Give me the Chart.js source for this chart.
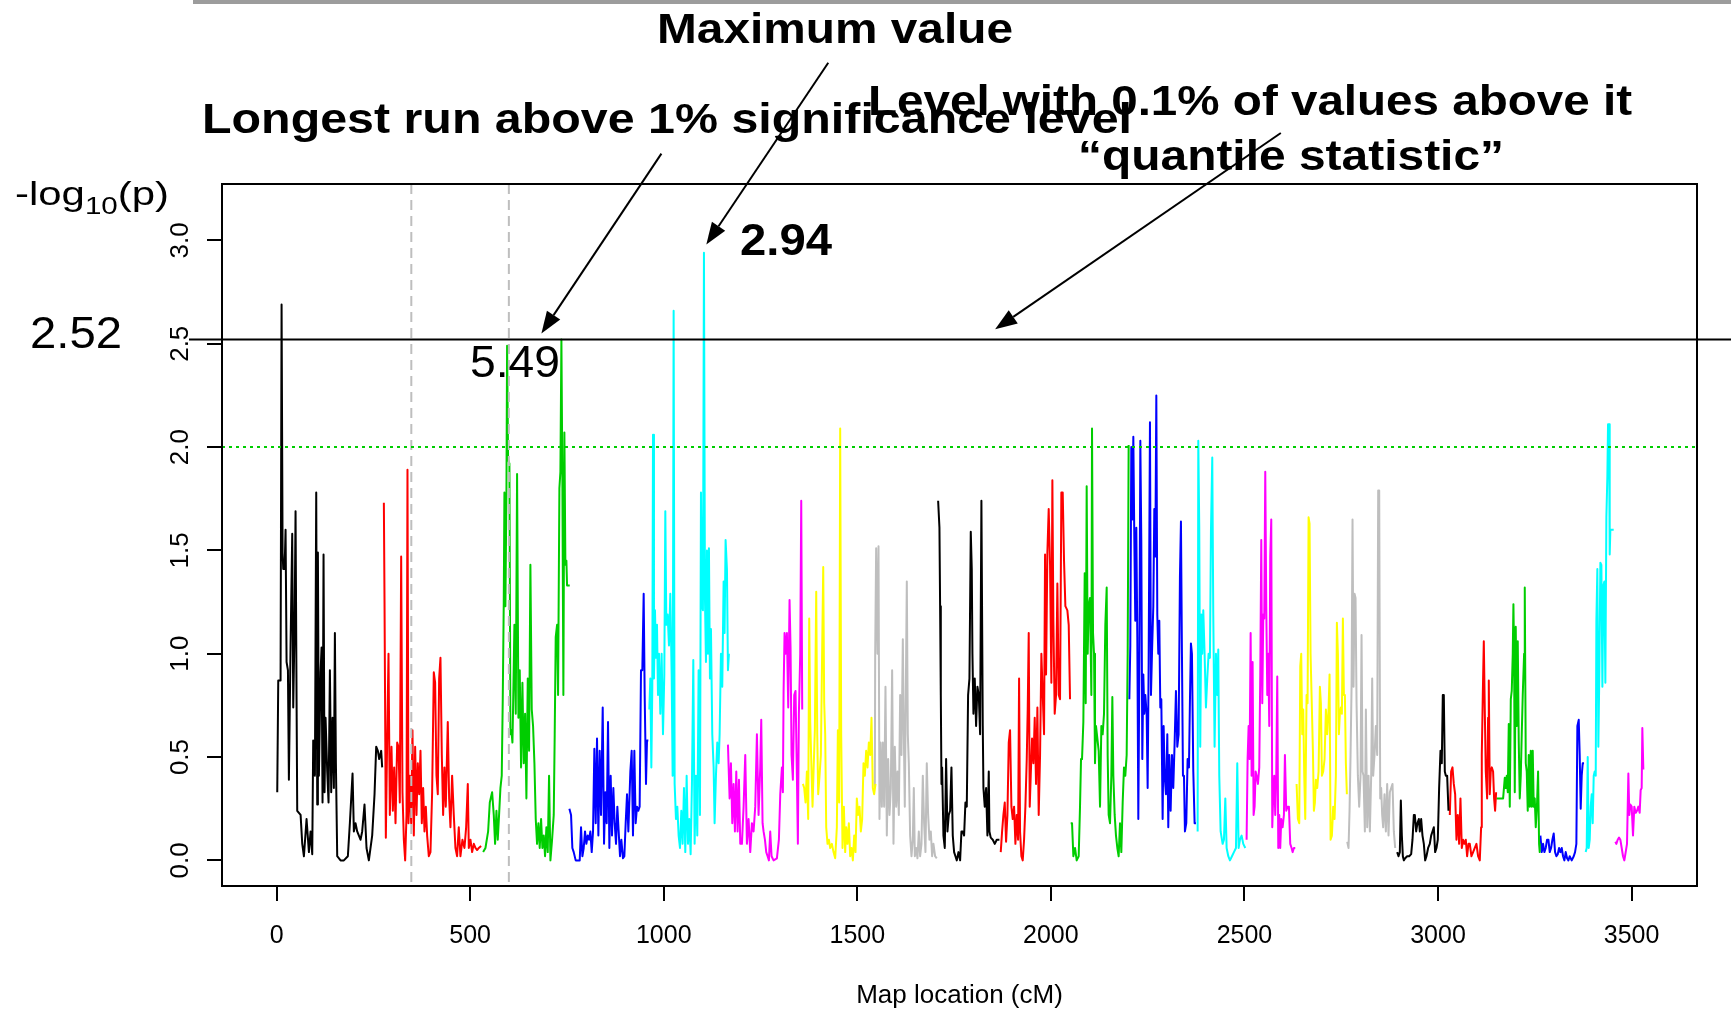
<!DOCTYPE html>
<html>
<head>
<title>Genome scan -log10(p)</title>
<script src="https://cdn.jsdelivr.net/npm/chart.js"></script>
<style>
  html, body { margin: 0; padding: 0; background: #fff; overflow: hidden; }
  canvas { display: block; }
</style>
</head>
<body>
<canvas id="scanChart" width="1731" height="1013"></canvas>
<script>
// [map location (cM), -log10(p)], one list per chromosome
var chr1 = [[1.7,0.33],[4.3,0.87],[10.3,0.87],[12.9,2.69],[15.5,1.49],[17.2,1.41],[20.7,1.41],[23.2,1.60],[25.8,0.96],[29.3,0.92],[31.8,0.39],[36.1,1.04],[40.4,1.58],[43.0,0.74],[46.5,1.14],[49.0,1.69],[51.6,0.78],[53.3,0.24],[62.0,0.22],[66.3,0.08],[70.6,0.02],[77.4,0.20],[83.5,0.04],[87.8,0.14],[92.1,0.03],[94.6,0.58],[99.0,0.41],[102.4,1.78],[105.0,0.27],[106.7,1.49],[109.3,0.41],[113.6,0.91],[116.2,1.03],[118.7,0.28],[121.3,1.48],[123.9,0.33],[126.5,0.69],[130.8,0.43],[134.2,0.28],[137.7,0.92],[141.1,0.33],[144.5,0.69],[148.0,0.35],[150.6,1.10],[153.2,0.47],[156.6,0.02],[165.2,0.00],[173.8,0.00],[184.1,0.02],[189.3,0.18],[196.2,0.42],[199.6,0.14],[203.9,0.18],[208.2,0.14],[216.8,0.10],[221.1,0.14],[227.1,0.27],[232.3,0.06],[238.3,0.00],[246.9,0.12],[253.0,0.32],[257.3,0.55],[261.6,0.53],[265.0,0.49],[270.2,0.53],[272.7,0.45]];
var chr2 = [[277.1,1.73],[278.8,1.25],[282.2,0.11],[285.7,0.59],[289.1,1.00],[292.5,0.22],[296.8,0.55],[300.3,0.24],[303.7,0.45],[307.2,0.18],[311.5,0.57],[314.9,0.55],[318.3,0.28],[321.8,1.47],[325.2,0.33],[328.7,0.10],[332.1,0.00],[335.6,0.22],[338.1,1.89],[340.7,0.18],[344.2,0.41],[347.6,0.18],[351.0,0.63],[354.5,0.12],[357.9,0.55],[361.4,0.22],[364.8,0.47],[368.3,0.32],[371.7,0.53],[375.1,0.18],[378.6,0.35],[382.0,0.14],[385.5,0.26],[388.9,0.12],[393.2,0.02],[397.5,0.04],[401.8,0.33],[406.1,0.91],[409.5,0.86],[413.0,0.41],[416.4,0.32],[419.9,0.88],[423.3,0.98],[426.8,0.51],[430.2,0.22],[433.6,0.45],[437.1,0.26],[442.2,0.67],[445.7,0.30],[449.1,0.16],[453.4,0.41],[457.7,0.22],[462.0,0.06],[466.3,0.02],[470.6,0.16],[474.9,0.02],[480.1,0.10],[485.3,0.06],[489.6,0.16],[493.9,0.37],[496.5,0.06],[500.8,0.10],[505.1,0.04],[509.4,0.08],[513.7,0.06],[518.0,0.05],[522.3,0.06],[528.3,0.07]];
var chr3 = [[533.5,0.04],[539.5,0.06],[546.4,0.14],[550.7,0.28],[556.7,0.33],[561.0,0.22],[564.4,0.08],[567.9,0.24],[571.3,0.10],[574.7,0.22],[578.2,0.35],[581.6,0.41],[584.2,0.78],[586.8,1.25],[588.5,1.78],[591.0,1.23],[593.7,1.78],[595.4,2.49],[598.0,1.94],[601.4,1.92],[604.0,0.61],[606.6,0.63],[609.2,0.57],[610.9,0.74],[614.3,1.14],[617.8,0.71],[621.2,1.87],[624.7,0.69],[628.1,0.92],[631.5,0.45],[635.0,0.86],[638.4,0.47],[641.9,0.71],[645.3,0.30],[648.8,0.88],[652.2,0.53],[655.6,1.43],[659.1,0.73],[662.5,0.65],[666.0,0.47],[669.4,0.20],[672.8,0.08],[676.3,0.18],[679.7,0.06],[683.2,0.20],[686.6,0.06],[690.1,0.12],[693.5,0.02],[696.9,0.16],[700.4,0.04],[703.8,0.41],[707.3,0.00],[711.6,0.10],[715.9,0.22],[718.4,0.61],[721.0,1.08],[724.5,1.14],[727.1,0.80],[730.5,1.80],[733.1,1.88],[735.7,2.52],[738.2,1.84],[740.8,0.80],[743.4,2.07],[746.0,1.43],[748.6,1.45],[750.3,1.33],[757.2,1.33]];
var chr4 = [[756.3,0.25],[760.6,0.22],[764.0,0.06],[767.5,0.04],[772.6,0.00],[777.8,0.00],[783.0,0.00],[786.4,0.16],[789.9,0.02],[793.3,0.06],[796.7,0.14],[800.2,0.08],[803.6,0.12],[807.1,0.10],[810.5,0.14],[814.0,0.04],[817.4,0.14],[820.8,0.54],[824.3,0.18],[827.7,0.59],[831.2,0.12],[834.6,0.53],[838.0,0.22],[842.4,0.74],[845.8,0.08],[849.2,0.33],[852.7,0.18],[856.1,0.67],[859.6,0.06],[863.0,0.41],[866.4,0.12],[869.9,0.35],[873.3,0.18],[876.8,0.08],[880.2,0.26],[883.6,0.14],[887.1,0.02],[890.5,0.10],[894.8,0.01],[898.3,0.02],[901.7,0.18],[905.2,0.32],[908.6,0.14],[913.8,0.43],[917.2,0.53],[920.6,0.12],[924.1,0.53],[927.5,0.18],[931.0,0.26],[934.4,0.24],[937.8,0.26],[941.3,0.92],[944.7,0.92],[948.2,1.29],[950.8,0.80],[954.2,0.37],[956.8,0.58],[960.2,0.58]];
var chr5 = [[962.8,0.73],[965.4,0.88],[968.0,0.45],[970.5,0.84],[972.3,2.06],[974.8,0.88],[977.4,1.21],[980.0,0.98],[982.6,1.14],[985.2,0.80],[987.8,1.00],[991.2,0.71],[994.6,1.00],[998.1,0.61],[1001.5,0.90],[1004.1,1.69],[1006.7,1.14],[1010.1,1.19],[1013.6,1.04],[1017.0,1.29],[1020.5,0.90],[1023.0,0.41],[1025.6,2.66],[1028.2,0.37],[1031.6,0.20],[1035.1,0.26],[1038.5,0.12],[1042.0,0.06],[1045.4,0.24],[1048.8,0.08],[1052.3,0.35],[1055.7,0.04],[1059.2,0.41],[1062.6,0.08],[1066.0,0.20],[1069.5,0.03],[1072.9,0.37],[1076.4,0.97],[1079.8,0.08],[1083.3,0.41],[1086.7,0.12],[1090.1,0.92],[1093.6,0.22],[1096.2,1.78],[1098.7,1.23],[1101.3,1.21],[1103.9,2.94],[1106.5,1.27],[1109.1,0.96],[1111.6,1.50],[1114.2,1.00],[1116.8,1.51],[1119.4,0.88],[1122.0,1.12],[1125.4,0.61],[1128.9,0.45],[1131.4,0.18],[1134.9,0.41],[1138.3,0.57],[1141.8,0.47],[1144.4,0.61],[1147.8,1.00],[1151.2,0.84],[1154.7,1.35],[1157.2,1.10],[1159.8,1.55],[1163.3,1.41],[1165.9,0.92],[1168.4,1.00]];
var chr6 = [[1165.9,0.56],[1170.2,0.30],[1173.6,0.47],[1177.1,0.18],[1180.5,0.37],[1183.9,0.14],[1187.4,0.43],[1190.8,0.14],[1194.3,0.39],[1197.7,0.08],[1202.0,0.08],[1206.3,0.26],[1210.6,0.51],[1214.9,0.08],[1219.2,0.20],[1223.5,0.04],[1227.8,0.18],[1232.1,0.14],[1236.4,0.26],[1240.7,0.61],[1245.0,0.22],[1249.3,0.45],[1251.9,0.68],[1255.3,0.18],[1257.9,0.14],[1261.4,0.10],[1264.8,0.04],[1268.3,0.02],[1271.7,0.00],[1275.1,0.14],[1278.6,0.02],[1283.7,0.00],[1292.3,0.01],[1297.5,0.10],[1301.0,0.32],[1305.3,0.45],[1307.8,0.33],[1309.6,0.82],[1312.1,1.10],[1314.7,1.00],[1318.2,1.10],[1321.6,0.74],[1325.0,1.26],[1327.6,1.03],[1330.2,0.51],[1333.6,0.39],[1337.1,0.80],[1340.5,0.82],[1344.0,0.41],[1346.5,0.08],[1349.1,0.71],[1352.6,1.00],[1355.2,1.74],[1357.7,0.73]];
var chr7 = [[1359.5,0.37],[1362.9,0.35],[1366.3,0.28],[1369.8,0.43],[1373.2,0.20],[1375.8,1.17],[1378.4,0.67],[1381.0,0.49],[1384.4,0.26],[1387.0,0.43],[1390.4,0.63],[1393.9,1.30],[1396.5,0.61],[1399.0,0.32],[1402.5,0.41],[1405.9,0.51],[1409.4,1.04],[1412.0,1.42],[1414.5,0.76],[1417.1,0.61],[1419.7,0.16],[1423.1,0.08],[1426.6,0.10],[1430.0,0.06],[1434.3,0.08],[1438.6,0.04],[1442.9,0.01],[1447.2,0.16],[1449.8,0.63],[1453.2,0.28],[1455.8,2.09],[1458.4,0.61],[1461.8,0.06],[1465.3,0.26],[1468.7,0.04],[1471.3,0.16],[1474.7,0.08],[1478.2,0.18],[1481.6,0.02],[1485.1,0.06],[1488.5,0.00],[1492.0,0.12],[1495.4,0.04],[1498.8,0.30],[1502.3,0.22],[1505.7,0.26],[1509.2,0.14],[1512.6,0.20],[1516.0,0.47],[1519.5,0.41],[1522.9,0.53],[1526.4,0.45],[1529.8,0.57],[1533.3,0.51],[1536.7,0.69],[1540.1,0.35],[1543.6,0.32],[1547.0,0.37]];
var chr8 = [[1545.3,0.35],[1546.2,1.00],[1548.7,1.51],[1552.2,1.00],[1554.8,1.52],[1557.3,0.20],[1559.9,0.57],[1563.4,0.26],[1565.9,0.57],[1569.4,0.26],[1572.8,0.84],[1576.3,0.12],[1579.7,0.49],[1583.2,0.22],[1586.6,0.35],[1590.0,0.92],[1593.5,0.08],[1596.9,0.55],[1600.4,0.26],[1603.8,0.43],[1607.3,0.22],[1610.7,0.80],[1614.1,0.51],[1617.6,1.07],[1620.2,0.61],[1622.7,0.26],[1625.3,0.80],[1627.9,1.35],[1630.5,0.61],[1633.1,0.47],[1636.5,0.12],[1640.0,0.02],[1643.4,0.10],[1646.0,0.35],[1648.6,0.02],[1652.0,0.06],[1655.4,0.01],[1658.9,0.14],[1662.3,0.02],[1665.8,0.08],[1669.2,0.41],[1672.6,0.18],[1676.1,0.04],[1679.5,0.47],[1683.0,0.22],[1686.4,0.10],[1689.9,0.14],[1693.3,0.02],[1696.7,0.08],[1701.0,0.02],[1705.3,0.01]];
var chr9 = [[1708.8,1.74],[1712.2,1.61],[1713.9,1.23],[1715.7,0.80],[1717.4,0.37],[1719.1,0.45],[1722.5,0.12],[1726.0,0.06],[1729.4,0.49],[1732.9,0.14],[1736.3,0.22],[1739.8,0.24],[1743.2,0.45],[1746.6,0.12],[1750.1,0.04],[1753.5,0.02],[1757.0,0.00],[1761.3,0.04],[1765.6,0.00],[1769.0,0.14],[1772.5,0.14],[1775.9,0.12],[1779.3,0.28],[1782.8,0.26],[1786.2,0.80],[1789.7,0.88],[1793.1,1.59],[1795.7,1.41],[1797.4,1.00],[1800.0,0.71],[1803.4,0.88],[1806.9,0.65],[1810.3,0.84],[1813.8,0.80],[1817.2,0.61],[1820.6,1.74],[1824.1,0.65],[1825.8,0.35],[1829.2,0.26],[1832.7,0.35],[1836.1,0.12],[1839.6,0.43],[1841.3,0.14],[1844.7,0.11],[1849.9,0.10],[1855.1,0.08],[1860.2,0.10],[1867.1,0.10]];
var chr10 = [[1870.5,0.04],[1874.0,0.14],[1877.4,0.22],[1880.9,0.28],[1884.3,0.09],[1887.8,0.22],[1891.2,0.57],[1894.6,0.63],[1898.1,0.26],[1901.5,0.20],[1905.0,0.26],[1908.4,0.08],[1911.8,0.22],[1915.3,0.10],[1917.9,0.88],[1920.4,0.14],[1923.9,0.02],[1927.3,0.00],[1930.8,0.10],[1934.2,0.26],[1937.7,0.49],[1940.2,0.73],[1942.8,1.10],[1945.4,0.26],[1948.0,0.41],[1951.4,0.59],[1954.9,0.47],[1958.3,0.69],[1961.7,0.37],[1965.2,0.74],[1968.6,0.22],[1972.1,0.51],[1975.5,1.00],[1979.0,0.80],[1982.4,0.61],[1985.0,1.48],[1987.6,0.90],[1991.0,1.49],[1994.4,1.70],[1997.9,1.43],[2001.3,0.86],[2003.9,1.84],[2006.5,1.16],[2009.9,0.71],[2013.4,0.80],[2016.8,1.34],[2020.3,0.80],[2023.7,0.78],[2027.1,1.78],[2030.6,1.78],[2034.0,1.45],[2037.5,1.23],[2042.6,1.21],[2046.1,1.14],[2049.5,0.78]];
var chr11 = [[2051.2,0.18],[2054.7,0.18],[2058.1,0.02],[2062.4,0.06],[2066.7,0.00],[2071.9,0.02],[2075.3,0.26],[2077.9,0.49],[2080.5,0.49],[2083.9,0.67],[2087.4,1.39],[2090.0,0.76],[2092.5,1.81],[2095.1,1.00],[2097.7,1.23],[2101.1,1.27],[2104.6,0.80],[2106.3,2.09],[2108.9,1.10],[2111.5,1.00],[2114.0,0.47],[2116.6,0.65],[2120.1,0.59],[2123.5,0.53],[2127.0,0.26],[2130.4,0.65],[2133.8,0.61],[2137.3,0.71],[2140.7,1.14],[2144.2,1.32],[2146.7,0.51],[2149.3,0.22],[2152.8,0.18],[2156.2,0.41],[2158.8,0.79],[2161.4,0.41],[2164.8,0.22],[2168.2,0.12],[2171.7,0.06],[2175.1,0.02],[2178.6,0.18],[2182.0,0.04],[2185.5,0.28],[2188.9,0.45],[2192.3,0.41],[2195.8,0.51],[2198.4,1.00],[2200.9,2.01]];
var chr12 = [[2202.7,0.78],[2205.2,1.04],[2207.8,2.00],[2210.4,1.65],[2213.0,2.05],[2215.6,1.55],[2218.1,1.16],[2220.7,1.61],[2223.3,1.08],[2225.9,0.20],[2228.5,0.90],[2231.1,2.03],[2233.6,1.55],[2236.2,0.49],[2238.8,0.90],[2241.4,0.71],[2244.0,0.80],[2247.4,0.71],[2250.0,0.35],[2252.6,0.96],[2256.0,2.12],[2258.6,0.80],[2261.2,1.00],[2264.6,1.23],[2267.2,1.70],[2269.8,1.47],[2272.4,2.25],[2274.9,1.19],[2277.5,1.00],[2280.1,1.16],[2282.7,0.74],[2285.3,0.78],[2288.7,0.20],[2291.3,0.65],[2293.9,0.41],[2297.3,0.32],[2300.8,0.61],[2303.3,0.16],[2305.9,0.51],[2309.4,0.24],[2312.8,0.51],[2316.2,0.35],[2319.7,0.57],[2323.1,0.82],[2326.6,0.55],[2330.0,0.61],[2333.4,1.37],[2336.0,1.64],[2338.6,1.00],[2341.2,0.41],[2343.8,0.41],[2346.3,0.14],[2349.8,0.18],[2353.2,0.49],[2356.7,0.45],[2359.3,0.78],[2361.8,1.05],[2364.4,1.00],[2367.9,0.43],[2371.3,0.18],[2374.8,0.18]];
var chr13 = [[2379.1,0.14],[2380.8,2.03],[2383.3,1.61],[2385.9,0.55],[2388.5,1.19],[2391.1,1.00],[2393.7,1.21],[2397.1,1.00],[2400.6,0.74],[2404.0,0.88],[2407.4,1.00],[2410.9,0.98],[2413.5,1.59],[2416.9,1.95],[2419.5,1.19],[2422.9,0.55],[2426.4,1.00],[2429.8,0.80],[2432.4,1.02],[2435.0,0.41],[2438.5,0.14],[2443.7,0.08],[2447.1,0.10],[2450.6,0.30],[2454.0,0.06],[2458.3,0.02],[2462.6,0.00],[2467.8,0.02],[2472.9,0.04],[2478.1,0.06],[2481.5,0.47],[2485.0,0.06],[2488.4,0.10],[2492.7,0.12],[2497.0,0.08],[2502.2,0.06]];
var chr14 = [[2505.6,0.10],[2508.2,0.49],[2510.8,0.65],[2513.4,0.49],[2516.0,1.10],[2518.5,0.41],[2521.1,0.96],[2523.7,0.22],[2526.3,0.26],[2528.9,0.43],[2531.4,0.41],[2534.9,0.37],[2538.3,0.45],[2540.9,0.90],[2543.5,1.55],[2546.1,0.76],[2548.7,1.19],[2551.2,1.17],[2553.8,1.88],[2556.4,1.23],[2559.0,0.80],[2561.6,1.00],[2564.1,0.65],[2566.7,1.47],[2569.3,1.65],[2571.9,0.16],[2574.5,0.32],[2577.0,0.41],[2579.6,0.22],[2582.2,0.41],[2584.8,0.89],[2587.4,0.06],[2590.0,0.22],[2592.5,0.06],[2595.1,0.20],[2598.6,0.16],[2602.0,0.22],[2604.6,0.51],[2608.0,0.24],[2611.5,0.26],[2614.9,0.26],[2618.3,0.08],[2621.8,0.06],[2624.4,0.04],[2627.8,0.06],[2631.3,0.06]];
var chr15 = [[2634.7,0.37],[2638.1,0.20],[2641.6,0.18],[2644.2,0.94],[2646.7,1.00],[2649.3,0.61],[2651.9,0.73],[2654.5,0.41],[2657.1,0.20],[2660.5,0.80],[2663.1,0.76],[2665.7,1.66],[2668.2,1.63],[2670.8,1.00],[2673.4,0.80],[2676.9,0.53],[2679.4,0.24],[2682.0,0.28],[2684.6,0.39],[2688.0,0.35],[2691.5,0.43],[2694.9,0.84],[2697.5,0.76],[2700.1,0.41],[2703.5,0.43],[2707.0,0.49],[2710.4,0.73],[2713.8,0.61],[2717.3,0.73],[2719.9,0.90],[2722.5,0.10],[2725.9,0.12],[2729.3,0.26],[2732.8,0.20],[2736.2,0.41],[2738.8,1.15],[2741.4,1.00],[2744.0,0.61],[2746.5,0.71],[2749.1,0.74],[2751.7,0.71],[2754.3,1.17],[2756.9,0.80],[2759.5,0.80],[2762.0,0.47],[2764.6,0.32]];
var chr16 = [[2765.5,0.09],[2768.9,0.06],[2771.5,0.24],[2774.1,0.51],[2776.7,0.84],[2779.2,1.65],[2781.8,0.84],[2784.4,1.29],[2787.0,1.27],[2789.6,0.76],[2793.0,0.41],[2796.4,0.26],[2799.9,0.41],[2802.5,1.09],[2805.0,0.43],[2807.6,0.41],[2811.1,0.14],[2813.7,0.73],[2817.1,0.16],[2820.5,0.41],[2824.0,0.14],[2827.4,0.41],[2830.0,0.88],[2832.6,0.41],[2836.0,0.51],[2839.5,0.65],[2842.9,0.51],[2845.5,1.79],[2848.1,1.79],[2850.7,0.30],[2853.2,0.35],[2855.8,0.22],[2858.4,0.16],[2861.8,0.32],[2865.3,0.14],[2868.7,0.37],[2872.2,0.12],[2875.6,0.33],[2879.0,0.35],[2882.5,0.37],[2885.9,0.14],[2889.4,0.06]];
var chr17 = [[2894.5,0.04],[2898.0,0.02],[2901.4,0.04],[2904.0,0.29],[2906.6,0.12],[2909.2,0.02],[2911.7,0.00],[2915.2,0.01],[2920.3,0.02],[2925.5,0.02],[2930.7,0.03],[2934.1,0.10],[2937.6,0.22],[2940.1,0.22],[2943.6,0.14],[2947.0,0.18],[2950.5,0.20],[2953.0,0.14],[2956.5,0.20],[2959.9,0.12],[2963.4,0.08],[2966.8,0.00],[2970.2,0.02],[2974.5,0.06],[2978.8,0.08],[2982.3,0.12],[2985.7,0.14],[2989.2,0.16],[2992.6,0.04],[2996.1,0.06],[2999.5,0.10],[3002.9,0.35],[3006.4,0.53],[3009.8,0.47],[3012.4,0.80],[3015.0,0.80],[3017.6,0.43],[3020.2,0.41],[3023.6,0.41],[3027.1,0.24]];
var chr18 = [[3030.5,0.22],[3033.9,0.43],[3037.4,0.45],[3040.8,0.37],[3044.3,0.32],[3047.7,0.10],[3051.1,0.22],[3054.6,0.08],[3058.0,0.30],[3061.5,0.06],[3064.9,0.10],[3068.3,0.08],[3071.8,0.10],[3075.2,0.02],[3078.7,0.08],[3082.1,0.08],[3086.4,0.02],[3090.7,0.04],[3095.0,0.06],[3099.3,0.08],[3103.6,0.02],[3107.9,0.00],[3111.4,0.16],[3113.1,0.51],[3115.7,0.80],[3118.3,1.06],[3120.8,0.73],[3123.4,0.43],[3126.9,0.30],[3129.4,0.69],[3131.2,0.87],[3133.7,0.32],[3136.3,0.43],[3138.9,0.45],[3142.3,0.43],[3144.9,0.30],[3147.5,0.24],[3150.1,0.33]];
var chr19 = [[3150.9,0.30],[3159.5,0.30],[3168.2,0.30],[3172.5,0.40],[3175.0,0.35],[3177.6,0.41],[3180.2,0.33],[3182.8,0.66],[3185.4,0.26],[3188.0,0.78],[3190.5,0.82],[3193.1,1.00],[3194.8,1.24],[3196.5,1.00],[3198.3,0.33],[3200.8,1.13],[3203.4,0.65],[3206.0,1.06],[3208.6,0.57],[3211.2,0.30],[3213.8,0.41],[3216.3,0.61],[3218.9,0.80],[3222.4,1.00],[3224.1,1.32],[3226.7,0.47],[3229.2,0.43],[3231.8,0.24],[3234.4,0.51],[3237.0,0.26],[3239.6,0.53],[3242.2,0.26],[3244.7,0.53],[3247.3,0.26],[3249.9,0.30],[3252.5,0.16],[3255.9,0.28],[3258.5,0.43],[3261.1,0.08],[3262.8,0.04]];
var chr20 = [[3264.5,0.12],[3268.0,0.04],[3271.4,0.08],[3274.8,0.04],[3278.3,0.06],[3281.7,0.10],[3285.2,0.10],[3288.6,0.04],[3292.1,0.06],[3295.5,0.10],[3298.9,0.13],[3302.4,0.04],[3305.8,0.02],[3309.3,0.03],[3312.7,0.06],[3316.1,0.04],[3319.6,0.06],[3323.0,0.02],[3326.5,0.00],[3329.9,0.04],[3333.4,0.01],[3336.8,0.00],[3340.2,0.02],[3345.4,0.00],[3350.6,0.02],[3354.0,0.04],[3357.4,0.08],[3360.0,0.65],[3363.5,0.68],[3366.0,0.51],[3368.6,0.25],[3371.2,0.41],[3373.8,0.47],[3377.2,0.47]];
var chr21 = [[3381.5,0.04],[3384.1,0.06],[3386.7,0.50],[3389.3,0.06],[3391.9,0.10],[3394.4,0.26],[3397.0,0.32],[3399.6,0.18],[3402.2,0.41],[3404.8,0.43],[3407.4,0.41],[3409.1,1.16],[3411.6,1.41],[3414.2,0.55],[3416.8,0.92],[3419.4,1.44],[3422.0,1.43],[3424.6,0.84],[3427.1,1.33],[3429.7,1.35],[3432.3,0.86],[3434.9,1.66],[3437.5,1.86],[3439.2,2.11],[3441.8,2.11],[3443.5,1.48],[3445.2,1.60],[3448.6,1.60],[3453.8,1.60]];
var chr22 = [[3458.1,0.09],[3460.7,0.08],[3464.1,0.10],[3467.6,0.11],[3471.0,0.10],[3474.5,0.06],[3477.9,0.02],[3481.3,0.00],[3484.8,0.04],[3488.2,0.08],[3491.7,0.42],[3494.2,0.22],[3496.8,0.27],[3500.3,0.26],[3503.7,0.12],[3507.1,0.26],[3510.6,0.23],[3514.0,0.24],[3517.5,0.26],[3520.9,0.23],[3523.5,0.34],[3526.1,0.35],[3527.8,0.64],[3530.4,0.44]];

var chromosomes = [chr1, chr2, chr3, chr4, chr5, chr6, chr7, chr8, chr9, chr10, chr11,
                   chr12, chr13, chr14, chr15, chr16, chr17, chr18, chr19, chr20, chr21, chr22];
// R palette 1:8, recycled along the chromosomes
var chrColors = ["#000000", "#FF0000", "#00CD00", "#0000FF", "#00FFFF", "#FF00FF", "#FFFF00", "#BEBEBE"];

var xTicks = [0, 500, 1000, 1500, 2000, 2500, 3000, 3500];
var yTicks = [0, 0.5, 1, 1.5, 2, 2.5, 3];

var significanceLevel = 2.0;    // green dotted line
var quantileLevel = 2.52;       // 0.1% quantile
var runBounds = [348, 600];     // grey dashed lines (cM)

var FONT = "'Liberation Sans', Arial, Helvetica, sans-serif";

// draw text squeezed/stretched to a given width (the slide text boxes are stretched)
function fitText(ctx, text, x, y, size, weight, width) {
    ctx.save();
    ctx.font = weight + " " + size + "px " + FONT;
    var w = ctx.measureText(text).width;
    ctx.translate(x, y);
    ctx.scale(width / w, 1);
    ctx.textAlign = "left";
    ctx.textBaseline = "alphabetic";
    ctx.fillStyle = "#000";
    ctx.fillText(text, 0, 0);
    ctx.restore();
}

function drawArrow(ctx, x1, y1, x2, y2) {
    var a = Math.atan2(y2 - y1, x2 - x1);
    var len = 22, half = 8;
    var bx = x2 - len * Math.cos(a), by = y2 - len * Math.sin(a);
    ctx.beginPath();
    ctx.moveTo(x1, y1);
    ctx.lineTo(bx, by);
    ctx.stroke();
    ctx.beginPath();
    ctx.moveTo(x2, y2);
    ctx.lineTo(bx + half * Math.sin(a), by - half * Math.cos(a));
    ctx.lineTo(bx - half * Math.sin(a), by + half * Math.cos(a));
    ctx.closePath();
    ctx.fill();
}

var overlay = {
    id: "overlay",
    afterDatasetsDraw: function(chart) {
        var ctx = chart.ctx, area = chart.chartArea;
        var xs = chart.scales.x, ys = chart.scales.y;
        ctx.save();

        // bar along the top of the slide
        ctx.fillStyle = "#9c9c9c";
        ctx.fillRect(193, 0, chart.width - 193, 4);

        ctx.lineWidth = 2;

        ctx.strokeStyle = "#BEBEBE";
        ctx.setLineDash([10, 6]);
        runBounds.forEach(function(cm) {
            var px = xs.getPixelForValue(cm);
            ctx.beginPath();
            ctx.moveTo(px, area.top);
            ctx.lineTo(px, area.bottom);
            ctx.stroke();
        });

        ctx.strokeStyle = "#00CD00";
        ctx.setLineDash([3, 4]);
        var gy = ys.getPixelForValue(significanceLevel);
        ctx.beginPath();
        ctx.moveTo(area.left, gy);
        ctx.lineTo(area.right, gy);
        ctx.stroke();
        ctx.setLineDash([]);

        ctx.strokeStyle = "#000";
        ctx.strokeRect(area.left, area.top, area.right - area.left, area.bottom - area.top);

        var qy = ys.getPixelForValue(quantileLevel);
        ctx.beginPath();
        ctx.moveTo(189, qy);
        ctx.lineTo(chart.width, qy);
        ctx.stroke();

        // arrows, given in data units
        ctx.fillStyle = "#000";
        [[1425, 3.86, 1110, 2.98],
         [994, 3.42, 684, 2.55],
         [2594, 3.52, 1856, 2.57]].forEach(function(p) {
            drawArrow(ctx, xs.getPixelForValue(p[0]), ys.getPixelForValue(p[1]),
                           xs.getPixelForValue(p[2]), ys.getPixelForValue(p[3]));
        });

        fitText(ctx, "Maximum value", 657, 43, 42, "bold", 356);
        fitText(ctx, "Longest run above 1% significance level", 202, 133, 42, "bold", 930);
        fitText(ctx, "Level with 0.1% of values above it", 868, 115, 42, "bold", 764);
        fitText(ctx, "\u201Cquantile statistic\u201D", 1078, 170, 42, "bold", 426);
        fitText(ctx, "2.94", 740, 255, 44, "bold", 92);
        fitText(ctx, quantileLevel.toFixed(2), 30, 348, 44, "normal", 92);
        fitText(ctx, "5.49", 470, 377, 44, "normal", 90);

        // -log10(p) with subscript
        ctx.save();
        var big = "34px " + FONT, small = "24px " + FONT;
        ctx.font = big;
        var w1 = ctx.measureText("-log").width, w3 = ctx.measureText("(p)").width;
        ctx.font = small;
        var w2 = ctx.measureText("10").width;
        ctx.translate(15, 205);
        ctx.scale(154 / (w1 + w2 + w3), 1);
        ctx.fillStyle = "#000";
        ctx.font = big;
        ctx.fillText("-log", 0, 0);
        ctx.font = small;
        ctx.fillText("10", w1, 9);
        ctx.font = big;
        ctx.fillText("(p)", w1 + w2, 0);
        ctx.restore();

        ctx.restore();
    }
};

var datasets = chromosomes.map(function(chr, i) {
    return {
        label: "chr" + (i + 1),
        data: chr.map(function(p) { return {x: p[0], y: p[1]}; }),
        borderColor: chrColors[i % chrColors.length],
        borderWidth: 2,
        borderJoinStyle: "round",
        pointRadius: 0,
        fill: false,
        tension: 0
    };
});

var tickGrid = {
    display: true,
    drawOnChartArea: false,
    drawTicks: true,
    tickLength: 15,
    color: "#000",
    lineWidth: 2
};

new Chart(document.getElementById("scanChart"), {
    type: "line",
    data: { datasets: datasets },
    options: {
        responsive: false,
        devicePixelRatio: 1,
        animation: false,
        layout: { padding: { left: 0, right: 34, top: 184, bottom: 0 } },
        plugins: {
            legend: { display: false },
            tooltip: { enabled: false }
        },
        scales: {
            x: {
                type: "linear",
                min: -141,
                max: 3669,
                afterBuildTicks: function(s) { s.ticks = xTicks.map(function(v) { return {value: v}; }); },
                afterFit: function(s) { s.height = 127; },
                grid: tickGrid,
                border: { display: false },
                ticks: {
                    autoSkip: false,
                    maxRotation: 0,
                    padding: 20,
                    color: "#000",
                    font: { family: FONT, size: 25 },
                    callback: function(v) { return String(v); }
                },
                title: {
                    display: true,
                    text: "Map location (cM)",
                    color: "#000",
                    font: { family: FONT, size: 26 },
                    padding: { top: 0, bottom: 2 }
                }
            },
            y: {
                type: "linear",
                min: -0.124,
                max: 3.273,
                afterBuildTicks: function(s) { s.ticks = yTicks.map(function(v) { return {value: v}; }); },
                afterFit: function(s) { s.width = 222; },
                grid: tickGrid,
                border: { display: false },
                ticks: {
                    autoSkip: false,
                    minRotation: 90,
                    maxRotation: 90,
                    crossAlign: "center",
                    padding: 8,
                    color: "#000",
                    font: { family: FONT, size: 26 },
                    callback: function(v) { return Number(v).toFixed(1); }
                }
            }
        }
    },
    plugins: [overlay]
});
</script>
</body>
</html>
